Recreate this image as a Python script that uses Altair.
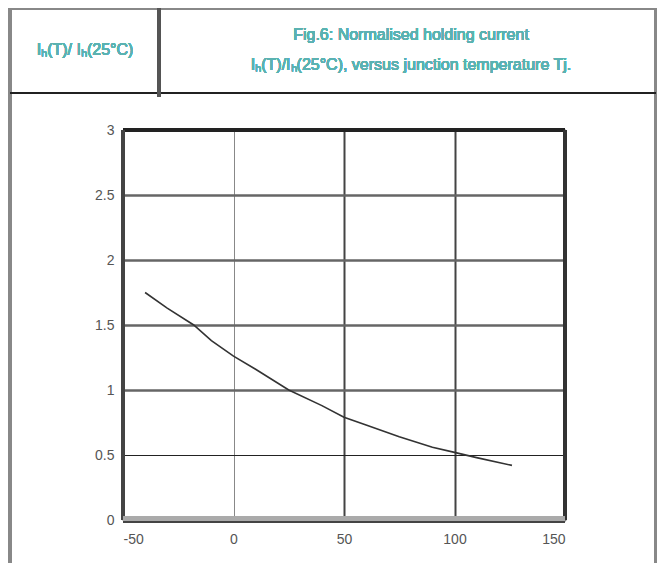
import altair as alt
import pandas as pd

# Curve data
temps = [-40, -30, -18, -10, 0, 10, 25, 40, 50, 60, 75, 90, 100, 110, 126]
ratio = [1.75, 1.63, 1.50, 1.38, 1.26, 1.16, 1.00, 0.88, 0.79, 0.73, 0.64, 0.56, 0.52, 0.48, 0.42]

x_ticks = [-50, 0, 50, 100, 150]
y_ticks = [0, 0.5, 1, 1.5, 2, 2.5, 3]

left_label = "Iₕ(T)/ Iₕ(25°C)"
title_1 = "Fig.6: Normalised holding current"
title_2 = "Iₕ(T)/Iₕ(25°C), versus junction temperature Tj."

df = pd.DataFrame({"t": temps, "r": ratio})

W, H = 442, 390
FONT = "Liberation Sans"
TEAL = "#5ab2b2"

x_scale = alt.Scale(domain=[-50, 150], nice=False, zero=False)
y_scale = alt.Scale(domain=[0, 3], nice=False)

base = alt.Chart(df)

curve = base.mark_line(color="#333333", strokeWidth=1.6).encode(
    x=alt.X("t:Q", scale=x_scale,
            axis=alt.Axis(values=x_ticks, title=None, domain=False, ticks=False,
                          labelExpr="'' + datum.value",
                          labelPadding=12, labelFontSize=14, labelColor="#555",
                          labelFont=FONT, labelFontWeight="normal",
                          gridColor={"condition": {"test": "datum.value == 0", "value": "#888"}, "value": "#444"},
                          gridWidth={"condition": {"test": "datum.value == 0", "value": 1}, "value": 2})),
    y=alt.Y("r:Q", scale=y_scale,
            axis=alt.Axis(values=y_ticks, title=None, domain=False, ticks=False,
                          labelExpr="'' + datum.value",
                          labelPadding=9, labelFontSize=14, labelColor="#555",
                          labelFont=FONT, labelFontWeight="normal",
                          gridColor={"condition": {"test": "datum.value == 0.5", "value": "#222"}, "value": "#666"},
                          gridWidth={"condition": {"test": "datum.value == 0.5", "value": 1.2}, "value": 2.5})),
)


def rule(x, x2, y, y2, color, width):
    return alt.Chart(df).mark_rule(color=color, strokeWidth=width).encode(
        x=alt.value(x), x2=alt.value(x2), y=alt.value(y), y2=alt.value(y2))


def label(x, y, txt, size=16):
    return alt.Chart(df).mark_text(font=FONT, fontSize=size, fontWeight="normal", color=TEAL,
                                   align="center", baseline="middle").encode(
        x=alt.value(x), y=alt.value(y), text=alt.value(txt))


frame = [
    # plot frame
    rule(0, W, 0, 0, "#222222", 4),
    rule(0, 0, 0, H, "#444444", 4),
    rule(W, W, 0, H, "#333333", 3),
    rule(0, W, H - 1, H - 1, "#aaaaaa", 5),
    rule(0, W, H + 2, H + 2, "#444444", 1.5),
    # page frame / header box
    rule(-113, -113, -122, 441, "#888888", 3),
    rule(533, 533, -122, 441, "#888888", 3),
    rule(-113, 533, -122, -122, "#888888", 3),
    rule(-113, 533, -37, -37, "#222222", 1.5),
    rule(36, 36, -122, -33, "#555555", 3),
]

texts = [
    label(-38, -80, left_label),
    label(288, -95, title_1),
    label(288, -65, title_2),
]

chart = alt.layer(curve, *frame, *texts).properties(
    width=W, height=H,
    autosize=alt.AutoSizeParams(type="none"),
    padding={"left": 115, "top": 122, "right": 92, "bottom": 43},
).configure_view(stroke=None).configure(background="white")

chart.save("out.html", embed_options={"renderer": "svg", "actions": False})
